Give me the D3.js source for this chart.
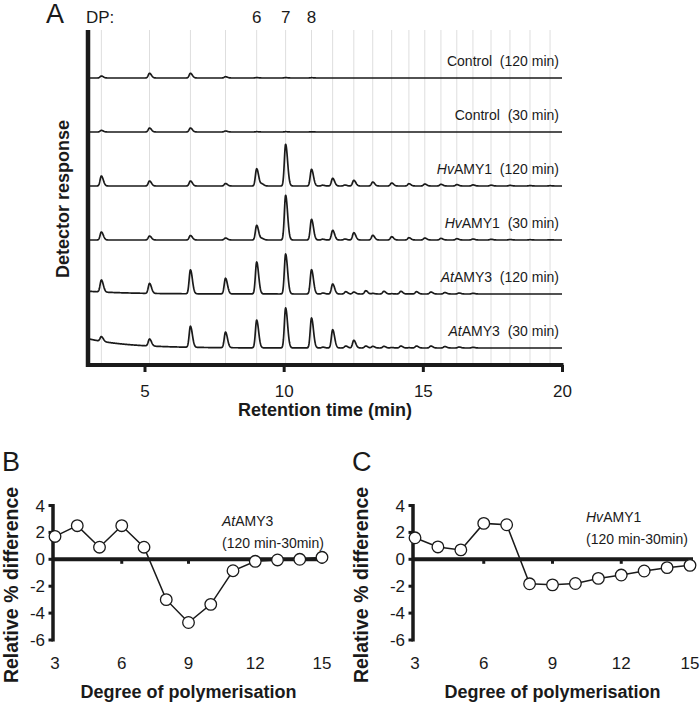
<!DOCTYPE html>
<html><head><meta charset="utf-8">
<script src="https://cdn.jsdelivr.net/npm/d3@7"></script>
<style>
body{margin:0;background:#fff}
svg{display:block}
text{font-family:"Liberation Sans",Arial,Helvetica,sans-serif;fill:#1a1a1a}
</style>
</head><body>
<svg id="chart" width="700" height="704"></svg>
<script>
// ---------- Panel A data (chromatograms) ----------
// retention times (min) of the malto-oligosaccharide peaks (grid lines)
const peakTimes = [3.45,5.18,6.65,7.91,9.03,10.07,11.0,11.76,12.52,13.2,13.88,14.5,15.07,15.65,16.22,16.8,17.45,18.13,18.85,19.57];
const dpLabels = ["6","7","8"];
const dpLabelTimes = [9.03,10.07,11.0];
const traceLabelItalic = ["","","Hv","Hv","At","At"];
const traceLabelName = ["Control","Control","AMY1","AMY1","AMY3","AMY3"];
const traceLabelTime = ["(120 min)","(30 min)","(120 min)","(30 min)","(120 min)","(30 min)"];
// peak heights (detector response units) at peakTimes, top trace first
const hControl120 = [2,4.7,4.7,1.3,0.4,0.4,0.3,0,0,0,0,0,0,0,0,0,0,0,0,0];
const hControl30  = [1.6,4,4,1,0.3,0.3,0.2,0,0,0,0,0,0,0,0,0,0,0,0,0];
const hHv120 = [10,5,5,2.5,17.3,41.7,16.7,7.7,5.7,4,3,2.3,2,1.7,1.4,1.1,0.8,0.6,0.4,0.3];
const hHv30  = [8,4,4.5,2,14.7,44.7,20.7,9.7,7.3,4.7,3.3,2.3,2,1.6,1.3,1,0.7,0.5,0.3,0.2];
const hAt120 = [12,10,24,15.7,32,40,24.3,10,2,0.6,0.3,0.2,0,0,0,0,0,0,0,0];
const hAt30  = [4.7,7,21,15.6,27.7,40,30,18.3,7.7,1.7,0.5,0.3,0,0,0,0,0,0,0,0];
// minor peaks between the main series
const minorTimesHv = [9.22,11.4,12.2];
const minorHv120 = [2,0.8,1];
const minorHv30  = [1.5,0.8,1];
const minorTimesAt = [11.41,12.23,12.95,13.6,14.21,14.77,15.29,15.79,16.3,16.8];
const minorAt120 = [1,2.3,3.3,2.7,2.7,2.3,2,1.5,1,0.7];
const minorAt30  = [0.8,2,2,1.7,2,2,2,1.5,1,0.7];
// baseline drift at start of run [amplitude, decay time (min)]
const driftAt120 = [2.8,1.45];
const driftAt30  = [9.3,1.45];

// ---------- Panel B / C data ----------
const dp = [3,4,5,6,7,8,9,10,11,12,13,14,15];
const diffAt = [1.7,2.5,0.9,2.5,0.9,-3.0,-4.7,-3.35,-0.85,-0.15,-0.05,0.0,0.15];
const diffHv = [1.6,0.92,0.7,2.67,2.57,-1.82,-1.9,-1.8,-1.42,-1.17,-0.87,-0.62,-0.45];
const yTicksBC = [4,2,0,-2,-4,-6];
const xTicksBC = [3,6,9,12,15];
const xTicksA = [5,10,15,20];

const svg = d3.select("#chart");
const ink = "#1a1a1a";

// ================= Panel A =================
const xA = d3.scaleLinear().domain([2.97,20]).range([88,562]);
const yA = d3.scaleLinear().domain([0,335]).range([365,30]);
const bandStep = 54, bandBase = 17;

// grid lines
svg.append("g").selectAll("line").data(peakTimes).join("line")
  .attr("x1",d=>xA(d)).attr("x2",d=>xA(d))
  .attr("y1",yA(335)).attr("y2",yA(0)-2)
  .attr("stroke","#dedede").attr("stroke-width",1);

const traces = [
  {h:hControl120, mt:[], mh:[], drift:[0,1]},
  {h:hControl30,  mt:[], mh:[], drift:[0,1]},
  {h:hHv120, mt:minorTimesHv, mh:minorHv120, drift:[0,1]},
  {h:hHv30,  mt:minorTimesHv, mh:minorHv30,  drift:[0,1]},
  {h:hAt120, mt:minorTimesAt, mh:minorAt120, drift:driftAt120},
  {h:hAt30,  mt:minorTimesAt, mh:minorAt30,  drift:driftAt30}
];
function shape(t,t0){
  const d=t-t0; const s = d<0 ? 0.045 : 0.07;
  return Math.exp(-0.5*(d/s)*(d/s));
}
const tSamples = d3.range(2.97,20.0001,0.01);
const lineA = d3.line().x(d=>xA(d[0])).y(d=>yA(d[1]));
traces.forEach((tr,i)=>{
  const off = bandBase + (5-i)*bandStep;
  const pts = tSamples.map(t=>{
    let v = off + tr.drift[0]*Math.exp(-(t-2.97)/tr.drift[1]);
    peakTimes.forEach((p,j)=>{ if(tr.h[j]) v += tr.h[j]*shape(t,p); });
    tr.mt.forEach((p,j)=>{ v += tr.mh[j]*shape(t,p); });
    return [t,v];
  });
  svg.append("path").attr("d",lineA(pts)).attr("fill","none")
    .attr("stroke",ink).attr("stroke-width",1.7).attr("stroke-linejoin","round");
  const lab = svg.append("text").attr("x",559).attr("y",yA(off)-12)
    .attr("text-anchor","end").attr("font-size",14).style("white-space","pre");
  if(traceLabelItalic[i]) lab.append("tspan").attr("font-style","italic").text(traceLabelItalic[i]);
  lab.append("tspan").text(traceLabelName[i]+"  "+traceLabelTime[i]);
});

// axes A
const axAx = svg.append("g").attr("transform",`translate(0,${yA(0)})`)
  .call(d3.axisBottom(xA).tickValues(xTicksA).tickSize(7).tickSizeOuter(0).tickPadding(13));
axAx.select(".domain").remove();
axAx.selectAll(".tick line").attr("stroke",ink).attr("stroke-width",3);
axAx.selectAll(".tick text").attr("font-size",17).attr("fill",ink)
  .attr("font-family","Liberation Sans, Arial, sans-serif");
svg.append("line").attr("x1",86).attr("x2",xA(20)+1.5).attr("y1",yA(0)).attr("y2",yA(0))
  .attr("stroke",ink).attr("stroke-width",4);
svg.append("line").attr("x1",88).attr("x2",88).attr("y1",yA(335)).attr("y2",yA(0)+2)
  .attr("stroke",ink).attr("stroke-width",4.5);

svg.append("text").attr("x",325).attr("y",416).attr("text-anchor","middle")
  .attr("font-size",18).attr("font-weight","bold").text("Retention time (min)");
svg.append("text").attr("transform","translate(68.5,199) rotate(-90)").attr("text-anchor","middle")
  .attr("font-size",18).attr("font-weight","bold").text("Detector response");
svg.append("text").attr("x",46).attr("y",22.5).attr("font-size",27).text("A");
svg.append("text").attr("x",86).attr("y",22.5).attr("font-size",17).text("DP:");
svg.append("g").selectAll("text").data(dpLabels).join("text")
  .attr("x",(d,i)=>xA(dpLabelTimes[i])).attr("y",22.5).attr("text-anchor","middle")
  .attr("font-size",17).text(d=>d);

// ================= Panels B and C =================
function diffPanel(x0, x1, letterX, values, italic, annX, annY){
  const x = d3.scaleLinear().domain([3,15]).range([x0,x1]);
  const y = d3.scaleLinear().domain([-6,4]).range([640,505.5]);
  const g = svg.append("g");
  // y axis
  g.append("line").attr("x1",x0-2).attr("x2",x0-2).attr("y1",y(4)-1.5).attr("y2",y(-6)+1.5)
    .attr("stroke",ink).attr("stroke-width",3.5);
  g.selectAll(".yt").data(yTicksBC).join("line").attr("class","yt")
    .attr("x1",x0-6.5).attr("x2",x0-2).attr("y1",d=>y(d)).attr("y2",d=>y(d))
    .attr("stroke",ink).attr("stroke-width",3);
  g.selectAll(".yl").data(yTicksBC).join("text").attr("class","yl")
    .attr("x",x0-10).attr("y",d=>y(d)+6).attr("text-anchor","end").attr("font-size",17).text(d=>d);
  // x axis at zero
  g.append("line").attr("x1",x0-2).attr("x2",x1+3).attr("y1",y(0)).attr("y2",y(0))
    .attr("stroke",ink).attr("stroke-width",4);
  g.selectAll(".xt").data(xTicksBC.slice(1)).join("line").attr("class","xt")
    .attr("x1",d=>x(d)).attr("x2",d=>x(d)).attr("y1",y(0)).attr("y2",y(0)+4.5)
    .attr("stroke",ink).attr("stroke-width",3);
  g.selectAll(".xl").data(xTicksBC).join("text").attr("class","xl")
    .attr("x",d=>x(d)).attr("y",669).attr("text-anchor","middle").attr("font-size",17).text(d=>d);
  // line + markers
  const pts = dp.map((d,i)=>[d,values[i]]);
  g.append("path").attr("d",d3.line().x(d=>x(d[0])).y(d=>y(d[1]))(pts))
    .attr("fill","none").attr("stroke",ink).attr("stroke-width",1.5);
  g.selectAll("circle").data(pts).join("circle")
    .attr("cx",d=>x(d[0])).attr("cy",d=>y(d[1])).attr("r",5.8)
    .attr("fill","#fff").attr("stroke",ink).attr("stroke-width",1.3);
  // annotation
  const a = g.append("text").attr("x",annX).attr("y",annY).attr("font-size",14);
  a.append("tspan").attr("font-style","italic").text(italic.slice(0,2));
  a.append("tspan").text(italic.slice(2));
  g.append("text").attr("x",annX).attr("y",annY+22).attr("font-size",14).text("(120 min-30min)");
  // titles
  g.append("text").attr("x",(x0+x1)/2).attr("y",698).attr("text-anchor","middle")
    .attr("font-size",18).attr("font-weight","bold").text("Degree of polymerisation");
  g.append("text").attr("transform",`translate(${letterX+15.5},585) rotate(-90)`).attr("text-anchor","middle")
    .attr("font-size",19.5).attr("font-weight","bold").text("Relative % difference");
  g.append("text").attr("x",letterX).attr("y",471).attr("font-size",27).text(x0<200?"B":"C");
}
diffPanel(55,322,2,diffAt,"AtAMY3",222,526);
diffPanel(415,690,352,diffHv,"HvAMY1",586,522);
</script>
</body></html>
